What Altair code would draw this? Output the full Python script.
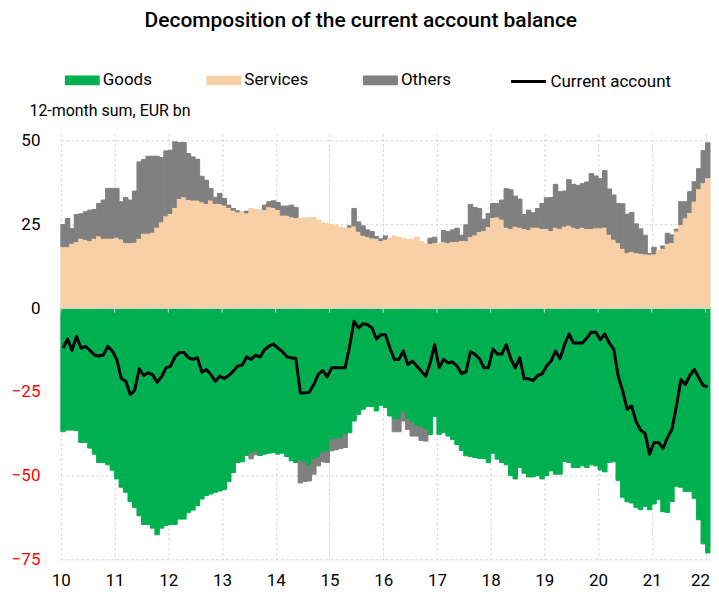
import altair as alt
import pandas as pd

# ---------------- data (12-month sums, EUR bn), monthly from Jan 2010 ----------------
START = "2010-01"
series_names = ["Goods", "Services", "Others"]
series_colors = ["#00B050", "#F7D0A7", "#808080"]
line_name = "Current account"
year_ticks = list(range(2010, 2023))
y_ticks = [-75, -50, -25, 0, 25, 50]

goods = [
    -36.9, -36.4, -36.4, -36.6, -40.1, -40.1, -41.8, -43.6, -46.1, -46.1,
    -46.8, -48.4, -51.0, -53.5, -55.0, -57.8, -59.5, -62.0, -64.6, -64.6,
    -65.7, -67.7, -65.7, -64.9, -64.6, -64.6, -63.0, -63.0, -61.0, -60.3,
    -59.0, -57.0, -56.0, -55.5, -55.0, -54.6, -54.2, -51.8, -49.1, -46.1,
    -45.9, -44.0, -43.5, -42.8, -44.0, -43.6, -43.3, -43.1, -43.6, -43.3,
    -44.3, -45.6, -46.1, -45.6, -46.1, -47.1, -45.1, -44.6, -43.1, -42.9,
    -39.3, -39.1, -38.9, -37.7, -37.2, -33.7, -31.7, -30.2, -29.4, -29.4,
    -30.7, -29.0, -29.7, -32.2, -33.2, -33.2, -31.2, -33.2, -34.2, -35.2,
    -35.7, -36.2, -37.7, -32.4, -37.7, -37.2, -38.2, -39.2, -40.7, -42.5,
    -44.1, -44.3, -44.6, -44.9, -44.9, -46.1, -43.3, -45.1, -46.1, -46.8,
    -50.0, -51.0, -47.6, -49.3, -50.4, -50.4, -50.0, -51.0, -50.0, -48.6,
    -49.6, -49.6, -45.8, -46.1, -47.6, -47.6, -47.1, -47.6, -46.8, -47.1,
    -48.3, -48.9, -46.1, -45.9, -51.5, -56.5, -57.8, -58.2, -59.5, -60.2,
    -59.2, -60.2, -58.5, -57.2, -60.8, -61.0, -57.8, -53.2, -53.5, -54.8,
    -54.8, -56.8, -63.2, -70.4, -73.1,
]

services = [
    18.4, 18.4, 19.4, 19.9, 20.9, 20.6, 20.2, 20.9, 21.6, 20.9,
    20.9, 20.9, 21.2, 20.7, 19.6, 19.6, 19.7, 20.9, 22.4, 22.4,
    22.7, 24.2, 25.8, 27.6, 28.3, 30.1, 32.8, 33.3, 32.5, 32.3,
    32.3, 31.8, 31.3, 32.3, 31.3, 31.3, 30.8, 30.1, 29.3, 28.8,
    28.8, 28.5, 29.8, 29.5, 29.3, 29.5, 30.3, 30.1, 29.5, 27.8,
    27.8, 27.3, 27.1, 26.8, 27.0, 27.1, 27.1, 26.3, 25.5, 25.3,
    25.0, 24.8, 24.2, 23.9, 24.2, 24.6, 23.0, 21.8, 21.4, 21.0,
    20.9, 20.2, 20.6, 20.9, 21.6, 21.2, 20.9, 20.6, 20.6, 21.2,
    19.9, 19.4, 19.4, 19.6, 19.4, 19.9, 19.6, 19.9, 19.9, 20.2,
    20.2, 21.4, 21.9, 22.9, 23.2, 24.4, 27.1, 27.3, 26.6, 24.2,
    23.8, 24.5, 24.2, 23.8, 23.5, 24.2, 24.2, 23.8, 23.8, 23.2,
    24.2, 23.8, 24.5, 24.8, 24.2, 23.8, 24.2, 23.8, 23.8, 24.0,
    24.0, 24.2, 22.1, 20.6, 19.6, 17.9, 16.6, 16.9, 16.6, 16.4,
    16.2, 16.1, 16.2, 17.2, 17.9, 19.4, 19.6, 23.1, 25.0, 27.0,
    28.6, 32.0, 35.7, 37.5, 39.0,
]

others = [
    6.6, 8.4, 4.4, 8.1, 7.3, 8.2, 9.1, 8.6, 9.7, 11.4,
    14.9, 14.9, 14.6, 11.1, 13.5, 12.7, 15.3, 22.8, 22.0, 23.0,
    22.7, 21.2, 19.2, 19.4, 18.9, 19.6, 16.7, 16.2, 13.7, 12.9,
    12.2, 7.6, 6.9, 3.5, 1.8, 3.0, 2.0, 0.7, 0.5, 0.3,
    0.0, 0.5, -1.5, -1.0, 0.0, 1.3, 1.5, 2.0, 2.1, 2.7,
    2.7, 3.5, 3.0, -6.6, -5.7, -4.5, -4.5, -2.5, -2.8, -3.2,
    -3.3, -3.2, -3.0, -3.9, 0.4, 5.2, 2.8, 2.8, 2.0, 1.9,
    0.5, 0.5, 1.0, 0.0, -3.7, -3.7, -2.5, -3.0, -4.0, -3.0,
    -3.8, -3.5, 1.5, 1.6, 0.0, 3.3, 3.3, 3.5, 4.0, 1.6,
    4.7, 9.6, 8.2, 6.9, 3.4, 3.9, 4.2, 4.0, 5.7, 11.5,
    11.6, 9.0, 8.4, 4.2, 5.8, 4.3, 5.6, 7.5, 9.2, 9.9,
    12.8, 11.0, 10.5, 13.6, 12.8, 12.9, 13.0, 13.9, 16.4, 15.5,
    14.7, 16.9, 13.5, 13.2, 11.7, 13.3, 11.5, 11.7, 8.6, 7.3,
    5.6, 0.2, 2.0, 0.0, 0.7, 3.0, 2.3, 0.5, 6.8, 4.8,
    6.2, 5.8, 6.0, 9.6, 10.4,
]

current_account = [
    -11.9, -9.2, -12.6, -8.4, -11.9, -11.4, -12.6, -14.0, -14.3, -14.0,
    -11.4, -12.8, -15.3, -21.0, -21.8, -25.8, -24.5, -18.1, -20.1, -19.3,
    -19.8, -22.1, -20.5, -17.8, -17.3, -14.5, -13.2, -13.2, -14.8, -15.3,
    -14.8, -19.1, -18.3, -19.8, -21.8, -20.3, -21.0, -20.1, -18.8, -17.3,
    -17.0, -14.6, -15.3, -14.0, -14.6, -12.4, -11.3, -10.7, -11.9, -13.0,
    -14.5, -14.8, -15.0, -25.3, -25.3, -25.1, -22.8, -19.8, -18.6, -20.5,
    -17.8, -17.8, -17.8, -17.8, -11.4, -3.9, -5.9, -4.6, -4.9, -5.9,
    -9.2, -7.9, -7.9, -11.9, -15.3, -15.3, -12.8, -16.8, -15.8, -17.3,
    -18.8, -20.3, -16.3, -10.9, -17.8, -15.3, -16.3, -16.1, -17.3, -19.5,
    -19.0, -13.0, -13.8, -15.1, -17.8, -17.8, -12.2, -13.7, -13.7, -10.9,
    -15.1, -17.8, -14.8, -21.1, -21.1, -21.6, -20.1, -19.6, -17.3, -15.8,
    -12.8, -15.1, -10.9, -7.7, -10.4, -10.4, -10.4, -8.9, -7.1, -7.2,
    -9.4, -7.7, -10.4, -12.2, -20.3, -24.8, -30.2, -29.2, -33.9, -36.4,
    -37.4, -43.6, -40.1, -40.1, -41.9, -38.6, -36.2, -29.2, -21.3, -22.8,
    -20.1, -18.3, -20.8, -23.1, -23.5,
]

# ---------------- tables ----------------
n = len(goods)
months = pd.date_range(START, periods=n, freq="MS")
t_start = [m.year + (m.month - 1) / 12 for m in months]
t_end = [t + 1 / 12 for t in t_start]
t_mid = [t + 1 / 24 for t in t_start]

rows = []
for i in range(n):
    for k, (name, vals) in enumerate(zip(series_names, [goods, services, others])):
        if vals[i] != 0:
            rows.append({"t": t_start[i], "t_end": t_end[i], "series": name,
                         "order": k, "value": vals[i]})
bar_df = pd.DataFrame(rows)
line_df = pd.DataFrame({"t": t_mid, "ca": current_account, "series": line_name})
tick_df = pd.DataFrame({"year": year_ticks})

X_MIN, X_MAX = 2010, t_end[-1]
Y_MIN, Y_MAX = -75, 52.2

FONT = "Roboto"
GRID = "#d9d9d9"

x_scale = alt.Scale(domain=[X_MIN, X_MAX], nice=False, zero=False)
y_scale = alt.Scale(domain=[Y_MIN, Y_MAX], nice=False)

x_axis = alt.Axis(
    values=year_ticks, labelExpr="substring(toString(datum.value), 2, 4)",
    labelAlign={"expr": "datum.value >= 2022 ? 'right' : 'center'"},
    labelOffset={"expr": "datum.value >= 2022 ? 4 : 0"},
    grid=True, gridDash=[3, 2], gridColor=GRID, gridWidth=1,
    domain=False, ticks=False, tickSize=0, labelPadding=13,
    labelFont=FONT, labelFontSize=17, labelColor="#000000", title=None,
)
y_axis = alt.Axis(
    values=y_ticks, grid=True, gridDash=[3, 2], gridColor=GRID, gridWidth=1,
    domain=False, ticks=False, tickSize=0, labelPadding=21,
    labelFont=FONT, labelFontSize=17,
    labelColor={"expr": "datum.value < 0 ? '#FF0000' : '#000000'"},
    title="12-month sum, EUR bn", titleAngle=0, titleAlign="left",
    titleBaseline="alphabetic", titleX=-32, titleY=-18,
    titleFont=FONT, titleFontSize=16, titleFontWeight="normal", titleColor="#000000",
)

fill_legend = alt.Legend(
    title=None, orient="none", legendX=4, legendY=-71, direction="horizontal",
    symbolType="M-1,-0.286H1V0.286H-1Z", symbolSize=1225, symbolStrokeWidth=0,
    symbolOpacity=1, labelFont=FONT, labelFontSize=17, labelColor="#000000",
    labelOffset=3, columnPadding=54, padding=0,
)
line_legend = alt.Legend(
    title=None, orient="none", legendX=450, legendY=-71,
    symbolType="stroke", symbolSize=1225, symbolStrokeWidth=3,
    labelFont=FONT, labelFontSize=17, labelColor="#000000", labelOffset=3, padding=0,
)

bars = alt.Chart(bar_df).transform_stack(
    stack="value", groupby=["t"], as_=["v0", "v1"], offset="zero",
    sort=[alt.SortField("order", order="ascending")],
).mark_rect(strokeWidth=1).encode(
    x=alt.X("t:Q", scale=x_scale, axis=x_axis),
    x2="t_end:Q",
    y=alt.Y("v0:Q", scale=y_scale, axis=y_axis),
    y2="v1:Q",
    fill=alt.Fill("series:N", scale=alt.Scale(domain=series_names, range=series_colors),
                  legend=fill_legend),
    stroke=alt.Stroke("series:N", scale=alt.Scale(domain=series_names, range=series_colors),
                      legend=None),
)

zero_line = alt.Chart(pd.DataFrame({"a": [X_MIN], "b": [X_MAX]})).mark_rule(
    color=GRID, strokeWidth=1
).encode(x=alt.X("a:Q", scale=x_scale), x2="b:Q", y=alt.datum(0))

ticks = alt.Chart(tick_df).mark_rule(color=GRID, strokeWidth=1).encode(
    x=alt.X("year:Q", scale=x_scale), y=alt.datum(0), y2=alt.datum(-1.3)
)

line = alt.Chart(line_df).mark_line(strokeWidth=3, strokeJoin="round").encode(
    x=alt.X("t:Q", scale=x_scale),
    y=alt.Y("ca:Q", scale=y_scale),
    stroke=alt.Stroke("series:N", scale=alt.Scale(domain=[line_name], range=["#000000"]),
                      legend=line_legend),
)

chart = alt.layer(bars, zero_line, ticks, line).resolve_scale(
    stroke="independent"
).properties(
    width=651, height=427,
    title=alt.TitleParams(
        "Decomposition of the current account balance", font=FONT, fontSize=21,
        fontWeight=500, color="#000000", anchor="middle", frame="bounds", offset=32,
    ),
    padding={"left": 3, "top": 1, "right": 0, "bottom": 0},
).configure_view(stroke=None)

chart.save("out.html", embed_options={"renderer": "svg", "actions": False})
